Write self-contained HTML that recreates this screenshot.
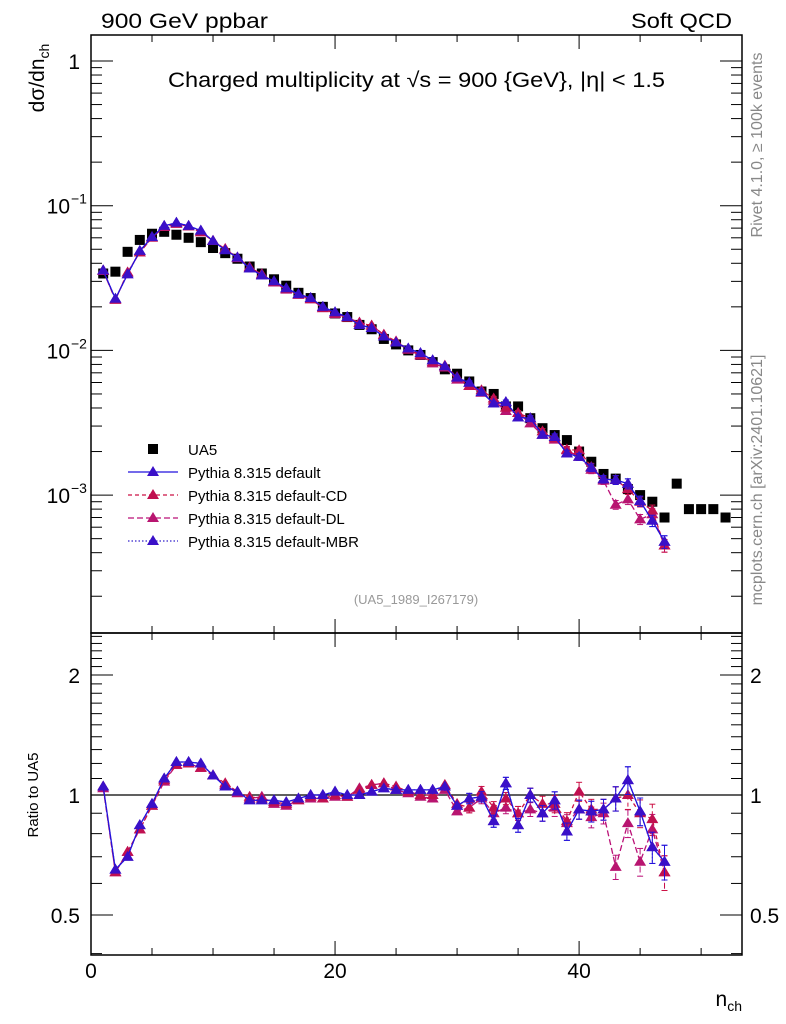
<!DOCTYPE html>
<html><head><meta charset="utf-8"><style>
body{margin:0;background:#fff}
svg{display:block;font-family:"Liberation Sans",sans-serif}
</style></head><body>
<svg id="c" width="786" height="1024" viewBox="0 0 786 1024">
<text x="101" y="28" font-size="21" textLength="167" lengthAdjust="spacingAndGlyphs">900 GeV ppbar</text>
<text x="631" y="28" font-size="21" textLength="101" lengthAdjust="spacingAndGlyphs">Soft QCD</text>
<text x="168" y="87" font-size="21" textLength="497" lengthAdjust="spacingAndGlyphs">Charged multiplicity at √s = 900 {GeV}, |η| &lt; 1.5</text>
<text transform="translate(762,145) rotate(-90)" font-size="16" fill="#888" text-anchor="middle">Rivet 4.1.0, ≥ 100k events</text>
<text transform="translate(762,480) rotate(-90)" font-size="16" fill="#888" text-anchor="middle">mcplots.cern.ch [arXiv:2401.10621]</text>
<text transform="translate(44,78) rotate(-90)" font-size="21" text-anchor="middle">dσ/dn<tspan font-size="14" dy="5">ch</tspan></text>
<text transform="translate(38,795) rotate(-90)" font-size="15" text-anchor="middle">Ratio to UA5</text>
<text x="742" y="1006" font-size="21" text-anchor="end">n<tspan font-size="14" dy="5">ch</tspan></text>
<text x="416" y="604" font-size="13" fill="#999" text-anchor="middle">(UA5_1989_I267179)</text>
<g id="g"></g>
</svg>
<script>
const nUA5=[1,2,3,4,5,6,7,8,9,10,11,12,13,14,15,16,17,18,19,20,21,22,23,24,25,26,27,28,29,30,31,32,33,34,35,36,37,38,39,40,41,42,43,44,45,46,47,48,49,50,51,52];
const ua5=[0.034,0.035,0.048,0.058,0.064,0.066,0.063,0.060,0.056,0.051,0.047,0.043,0.038,0.034,0.031,0.028,0.025,0.023,0.020,0.018,0.017,0.015,0.014,0.012,0.011,0.010,0.0093,0.0083,0.0074,0.0069,0.0061,0.0052,0.0050,0.0041,0.0041,0.0034,0.0029,0.0026,0.0024,0.0020,0.0017,0.0014,0.0013,0.0011,0.0010,0.0009,0.0007,0.0012,0.0008,0.0008,0.0008,0.0007];
const rDefault=[1.05,0.65,0.70,0.84,0.95,1.10,1.21,1.21,1.20,1.12,1.05,1.02,0.97,0.97,0.97,0.96,0.98,1.00,1.00,1.02,1.00,1.00,1.02,1.04,1.03,1.03,1.03,1.03,1.05,0.94,0.98,0.99,0.86,1.07,0.84,1.00,0.90,0.97,0.81,0.92,0.91,0.92,0.98,1.09,0.91,0.74,0.68];
const rCD=[1.05,0.64,0.72,0.82,0.94,1.09,1.19,1.20,1.17,1.12,1.07,1.02,0.99,0.98,0.96,0.95,0.97,0.99,0.98,1.00,0.99,1.03,1.06,1.07,1.05,1.02,1.00,1.00,1.06,0.95,0.93,1.02,0.93,0.98,0.90,1.00,0.95,0.95,0.86,1.02,0.92,0.92,0.98,1.00,0.90,0.87,0.64];
const rDL=[1.04,0.64,0.72,0.82,0.94,1.08,1.19,1.20,1.17,1.12,1.06,1.01,0.98,0.99,0.95,0.94,0.97,0.98,0.98,0.99,0.99,1.04,1.06,1.07,1.03,1.01,0.99,0.98,1.03,0.91,0.93,0.98,0.90,0.93,0.90,0.92,0.90,0.93,0.85,0.92,0.88,0.90,0.66,0.85,0.68,0.82,0.64];
const rMBR=[1.05,0.65,0.70,0.84,0.95,1.10,1.21,1.21,1.20,1.12,1.05,1.02,0.97,0.97,0.97,0.96,0.98,1.00,1.00,1.02,1.00,1.00,1.02,1.04,1.03,1.03,1.03,1.03,1.05,0.94,0.98,0.99,0.86,1.07,0.84,1.00,0.90,0.97,0.81,0.92,0.91,0.92,0.98,1.09,0.91,0.74,0.68];
const relErr=[0.01,0.01,0.01,0.01,0.01,0.01,0.01,0.01,0.01,0.01,0.01,0.01,0.01,0.01,0.01,0.01,0.01,0.015,0.015,0.015,0.015,0.015,0.02,0.02,0.02,0.02,0.02,0.025,0.025,0.025,0.03,0.03,0.035,0.035,0.04,0.04,0.045,0.05,0.05,0.055,0.06,0.06,0.07,0.08,0.08,0.09,0.1];
const xTicks=[0,20,40];
const yTopTicks=[1,0.1,0.01,0.001];
const yTopLabels=["1","10","10","10"];
const yTopExp=["","−1","−2","−3"];
const ratioTicks=[0.5,1,2];
const series=[
 {name:"Pythia 8.315 default",r:rDefault,col:"#2211dd",dash:"",mk:"#3a10c8"},
 {name:"Pythia 8.315 default-CD",r:rCD,col:"#cc1144",dash:"4,3",mk:"#c01050"},
 {name:"Pythia 8.315 default-DL",r:rDL,col:"#bb1177",dash:"6,3",mk:"#b81570"},
 {name:"Pythia 8.315 default-MBR",r:rMBR,col:"#3322cc",dash:"1.5,2",mk:"#3a10c8"}];
const L=91,R=742,T=35,M=633,B=955;
const X=n=>L+(n-0)*(R-L)/53.35;
const Y=v=>61-144.7*Math.log10(v);
const YR=r=>795-398.6*Math.log10(r);
const g=document.getElementById('g');
const NS="http://www.w3.org/2000/svg";
function el(t,a,p){const e=document.createElementNS(NS,t);for(const k in a)e.setAttribute(k,a[k]);(p||g).appendChild(e);return e;}
let f=el('rect',{x:L,y:T,width:R-L,height:M-T,fill:"none",stroke:"#000","stroke-width":1.5});


f=el('rect',{x:L,y:M,width:R-L,height:B-M,fill:"none",stroke:"#000","stroke-width":1.5});


for(let n=0;n<=53;n+=5){const maj=n%20==0;const len=maj?14:7;
 for(const [y0,dir] of [[M,-1],[T,1],[B,-1],[M,1]]) el('line',{x1:X(n),x2:X(n),y1:y0,y2:y0+dir*len,stroke:"#000"});}
xTicks.forEach(n=>{const t=el('text',{x:X(n),y:978,"font-size":21,"text-anchor":"middle"});t.textContent=n;

});
for(let d=-4;d<=0;d++)for(let m=1;m<=9;m++){const v=m*Math.pow(10,d);const y=Y(v);if(y<T||y>M)continue;const len=m==1?22:11;
 el('line',{x1:L,x2:L+len,y1:y,y2:y,stroke:"#000"});el('line',{x1:R,x2:R-len,y1:y,y2:y,stroke:"#000"});}
yTopTicks.forEach((v,i)=>{const t=el('text',{x:i==0?80:70,y:Y(v)+8,"font-size":21,"text-anchor":"end"});t.textContent=yTopLabels[i];
 
 
 if(yTopExp[i]){const s=el('text',{x:71,y:Y(v)-2,"font-size":14});s.textContent=yTopExp[i];}});
for(let r=0.4;r<=2.6;r+=0.1){const rr=Math.round(r*10)/10;const y=YR(rr);if(y<M||y>B)continue;const maj=[0.5,1,2].includes(rr);const len=maj?22:11;
 el('line',{x1:L,x2:L+len,y1:y,y2:y,stroke:"#000"});el('line',{x1:R,x2:R-len,y1:y,y2:y,stroke:"#000"});}
ratioTicks.forEach(r=>{for(const [x,a] of [[80,"end"],[750,"start"]]){const t=el('text',{x:x,y:YR(r)+8,"font-size":21,"text-anchor":a});t.textContent=r;
 
 }});
el('line',{x1:L,x2:R,y1:YR(1),y2:YR(1),stroke:"#000","stroke-width":1.2});
nUA5.forEach((n,i)=>{const r=el('rect',{x:X(n)-5,y:Y(ua5[i])-5,width:10,height:10,fill:"#000"});
 
 });
function tri(x,y,c){return el('path',{d:`M${x},${y-6}L${x+6},${y+4}L${x-6},${y+4}Z`,fill:c});}
series.slice().reverse().forEach(s=>{
 const top=[],bot=[];
 s.r.forEach((r,i)=>{const n=i+1;top.push([X(n),Y(ua5[i]*r)]);bot.push([X(n),YR(r)]);});
 for(const pts of [top,bot]){const p=el('polyline',{points:pts.map(p=>p.join(',')).join(' '),fill:"none",stroke:s.col,"stroke-width":1.3,"stroke-dasharray":s.dash});
  
  }
 s.r.forEach((r,i)=>{const n=i+1,e=relErr[i];
  const v=ua5[i]*r;
  el('line',{x1:X(n),x2:X(n),y1:Y(v*(1+e)),y2:Y(v*(1-e)),stroke:s.col,"stroke-dasharray":s.dash});
  el('line',{x1:X(n),x2:X(n),y1:YR(r*(1+e)),y2:YR(r*(1-e)),stroke:s.col,"stroke-dasharray":s.dash});
  if(e>=0.03){for(const y of [YR(r*(1+e)),YR(r*(1-e)),Y(v*(1+e)),Y(v*(1-e))])el('line',{x1:X(n)-3,x2:X(n)+3,y1:y,y2:y,stroke:s.col});}
  let t=tri(X(n),Y(v),s.mk);
  t=tri(X(n),YR(r),s.mk);
 });
});
let ly=449;
let lr=el('rect',{x:148,y:ly-5,width:10,height:10,fill:"#000"});


let lt=el('text',{x:188,y:ly+6,"font-size":15});lt.textContent="UA5";
series.forEach((s,i)=>{const y=ly+23*(i+1);
 el('line',{x1:128,x2:178,y1:y,y2:y,stroke:s.col,"stroke-width":1.3,"stroke-dasharray":s.dash});
 const t=tri(153,y,s.mk);
 const tx=el('text',{x:188,y:y+6,"font-size":15});tx.textContent=s.name;
 
 });
</script>
</body></html>
